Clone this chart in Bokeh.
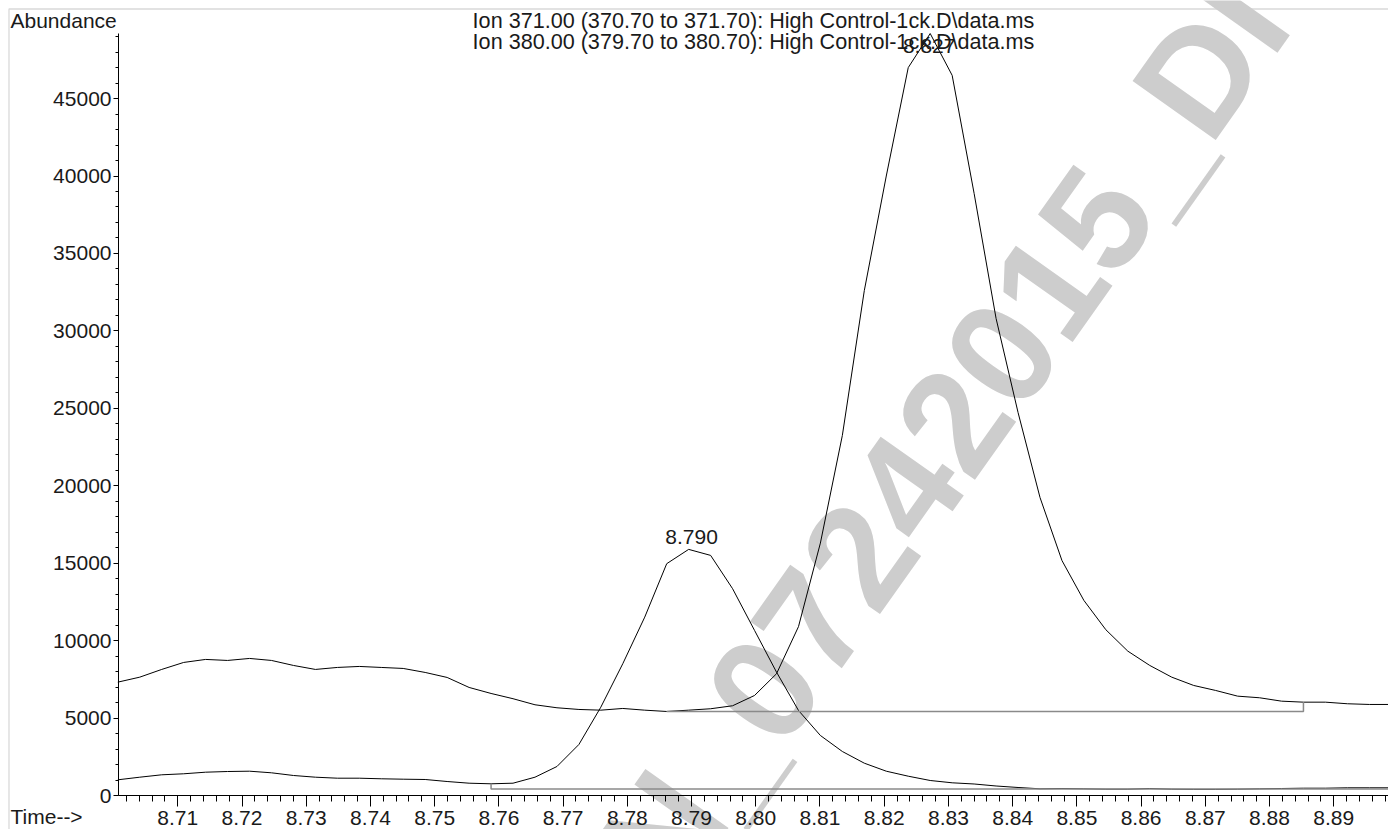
from bokeh.plotting import figure
from bokeh.models import Label, FixedTicker, Range1d, BoxAnnotation
from bokeh.embed import file_html
from bokeh.resources import INLINE

# ---------------- data ----------------
time_min = [8.70066, 8.70408, 8.70749, 8.71091, 8.71433, 8.71775, 8.72117, 8.72459,
            8.72801, 8.73143, 8.73485, 8.73826, 8.74168, 8.74510, 8.74852, 8.75194,
            8.75536, 8.75878, 8.76220, 8.76562, 8.76904, 8.77246, 8.77587, 8.77929,
            8.78271, 8.78613, 8.78955, 8.79297, 8.79639, 8.79981, 8.80323, 8.80665,
            8.81006, 8.81348, 8.81690, 8.82032, 8.82374, 8.82716, 8.83058, 8.83400,
            8.83742, 8.84084, 8.84426, 8.84768, 8.85109, 8.85451, 8.85793, 8.86135,
            8.86477, 8.86819, 8.87161, 8.87503, 8.87845, 8.88187, 8.88528, 8.88870,
            8.89212, 8.89554, 8.89896]

ion_371 = [1014, 1182, 1337, 1402, 1505, 1550, 1570, 1466,
           1292, 1182, 1118, 1118, 1079, 1053, 1034, 904,
           795, 756, 795, 1182, 1873, 3295, 5704, 8508,
           11518, 14968, 15892, 15504, 13353, 10659, 7965, 5491,
           3876, 2842, 2087, 1570, 1247, 969, 820, 743,
           614, 517, 433, 452, 433, 407, 407, 452,
           407, 395, 395, 407, 433, 452, 472, 472,
           497, 497, 497]

ion_380 = [7319, 7642, 8140, 8592, 8786, 8721, 8850, 8721,
           8398, 8140, 8269, 8333, 8269, 8204, 7946, 7623,
           6977, 6589, 6250, 5859, 5665, 5556, 5510, 5620,
           5510, 5426, 5510, 5601, 5795, 6460, 7862, 10904,
           16300, 23250, 32600, 40000, 47000, 49200, 46500, 38870,
           30800, 24730, 19240, 15170, 12597, 10704, 9322, 8398,
           7642, 7106, 6783, 6415, 6311, 6092, 6027, 6027,
           5924, 5879, 5879]

# integration baselines (start/stop events)
base_371_t = [8.75878, 8.75878, 8.90500]
base_371_v = [756, 425, 425]
base_380_t = [8.78613, 8.88528, 8.88528]
base_380_v = [5426, 5426, 6027]

# peak labels
peak_rt = [8.790, 8.827]
peak_abund = [15892, 49200]
peak_text = ["8.790", "8.827"]

x_ticks = [8.71, 8.72, 8.73, 8.74, 8.75, 8.76, 8.77, 8.78, 8.79, 8.80,
           8.81, 8.82, 8.83, 8.84, 8.85, 8.86, 8.87, 8.88, 8.89]
x_tick_labels = ["8.71", "8.72", "8.73", "8.74", "8.75", "8.76", "8.77", "8.78", "8.79", "8.80",
                 "8.81", "8.82", "8.83", "8.84", "8.85", "8.86", "8.87", "8.88", "8.89"]
y_ticks = [0, 5000, 10000, 15000, 20000, 25000, 30000, 35000, 40000, 45000]
y_tick_labels = ["0", "5000", "10000", "15000", "20000", "25000", "30000", "35000", "40000", "45000"]

title_lines = ["Ion 371.00 (370.70 to 371.70): High Control-1ck.D\\data.ms",
               "Ion 380.00 (379.70 to 380.70): High Control-1ck.D\\data.ms"]
watermark_head = "N_"
watermark_tail = "07242015_DI"

# ---------------- layout (frame = whole canvas, axes at fixed places) ----------------
W, H = 1388, 829
X_START, X_END = 8.682392, 8.898524      # canvas px 0 .. 1388
Y_START, Y_END = -2195.0, 51333.0        # canvas px 829 .. 0
AXIS_X0 = 8.700766                       # time at the y axis
AXIS_Y1 = 49200                          # top of the y axis
BASE_FIX = 8                             # px: lift alphabetic labels onto their baseline


def tx(px):
    return X_START + px * (X_END - X_START) / W


def vy(py):
    return Y_END - py * (Y_END - Y_START) / H


p = figure(width=W, height=H, x_range=Range1d(X_START, X_END), y_range=Range1d(Y_START, Y_END),
           output_backend="svg", toolbar_location=None,
           min_border_left=0, min_border_right=0, min_border_top=0, min_border_bottom=0,
           background_fill_color="white", border_fill_color="white")
p.outline_line_color = None
p.grid.visible = False

FONT = "Liberation Sans"
FS = "21px"
TXT = "#1a1a1a"

x_minor = [round(8.702 + 0.002 * i, 3) for i in range(99)]
p.xaxis.ticker = FixedTicker(ticks=x_ticks, minor_ticks=x_minor)
p.xaxis.major_label_overrides = dict(zip(x_ticks, x_tick_labels))
p.xaxis.fixed_location = 0
p.xaxis.bounds = (AXIS_X0, X_END)
p.xaxis.major_tick_out = 11
p.xaxis.major_tick_in = 0
p.xaxis.minor_tick_out = 6
p.xaxis.minor_tick_in = 0
p.xaxis.major_label_standoff = 4

y_minor = [1000 * i for i in range(50)]
p.yaxis.ticker = FixedTicker(ticks=y_ticks, minor_ticks=y_minor)
p.yaxis.major_label_overrides = dict(zip(y_ticks, y_tick_labels))
p.yaxis.fixed_location = AXIS_X0
p.yaxis.bounds = (0, AXIS_Y1)
p.yaxis.major_tick_out = 5
p.yaxis.major_tick_in = 0
p.yaxis.minor_tick_out = 3
p.yaxis.minor_tick_in = 0
p.yaxis.major_label_standoff = 2

for ax in (p.xaxis, p.yaxis):
    ax.axis_line_color = "black"
    ax.major_tick_line_color = "black"
    ax.minor_tick_line_color = "black"
    ax.major_label_text_font = FONT
    ax.major_label_text_font_size = FS
    ax.major_label_text_color = TXT

# page border (gray frame around the printout)
p.add_layout(BoxAnnotation(left=tx(8.5), right=tx(1420), top=vy(8.5), bottom=vy(860),
                           fill_color=None, fill_alpha=0, line_color="#808080", line_width=1.3,
                           level="underlay"))

# watermark (under the traces)
ang = 54.7
WM_SIZE = 148
# baseline start of "0", lifted along the glyph's up direction (-0.816, -0.578)
lift = 0.37 * WM_SIZE
wx, wy = tx(784 - 0.816 * lift), vy(754 - 0.578 * lift)
for txt, al in ((watermark_tail, "left"), (watermark_head, "right")):
    p.add_layout(Label(x=wx, y=wy, text=txt, angle=ang, angle_units="deg",
                       text_align=al, text_baseline="alphabetic",
                       text_font=FONT, text_font_style="bold",
                       text_font_size=f"{WM_SIZE}px",
                       text_color="#cdcdcd", level="underlay"))

# traces
p.line(time_min, ion_371, line_color="black", line_width=1)
p.line(time_min, ion_380, line_color="black", line_width=1)
p.line(base_371_t, base_371_v, line_color="#8a8a8a", line_width=1.5)
p.line(base_380_t, base_380_v, line_color="#8a8a8a", line_width=1.5)

# peak labels
for rt, ab, txt in zip(peak_rt, peak_abund, peak_text):
    if ab >= 0.97 * AXIS_Y1:
        # apex at the top of the axis: label sits just inside the frame
        lab = Label(x=rt, y=AXIS_Y1, y_offset=-20 + BASE_FIX, text=txt)
    else:
        lab = Label(x=rt, y=ab, y_offset=4 + BASE_FIX, text=txt)
    lab.text_align = "center"
    lab.text_baseline = "alphabetic"
    lab.text_font = FONT
    lab.text_font_size = FS
    lab.text_color = TXT
    p.add_layout(lab)

# titles and axis captions
center = (AXIS_X0 + X_END) / 2
for txt, base in zip(title_lines, (28.3, 49.3)):
    p.add_layout(Label(x=center, y=vy(base), y_offset=BASE_FIX, text=txt, text_align="center",
                       text_baseline="alphabetic", text_font=FONT, text_font_size="21.6px",
                       text_color=TXT))
p.add_layout(Label(x=tx(10), y=vy(28.3), y_offset=BASE_FIX, text="Abundance", text_align="left",
                   text_baseline="alphabetic", text_font=FONT, text_font_size=FS,
                   text_color=TXT))
p.add_layout(Label(x=tx(10), y=vy(824), y_offset=BASE_FIX, text="Time-->", text_align="left",
                   text_baseline="alphabetic", text_font=FONT, text_font_size=FS,
                   text_color=TXT))

open("out.html", "w").write(file_html(p, INLINE))
